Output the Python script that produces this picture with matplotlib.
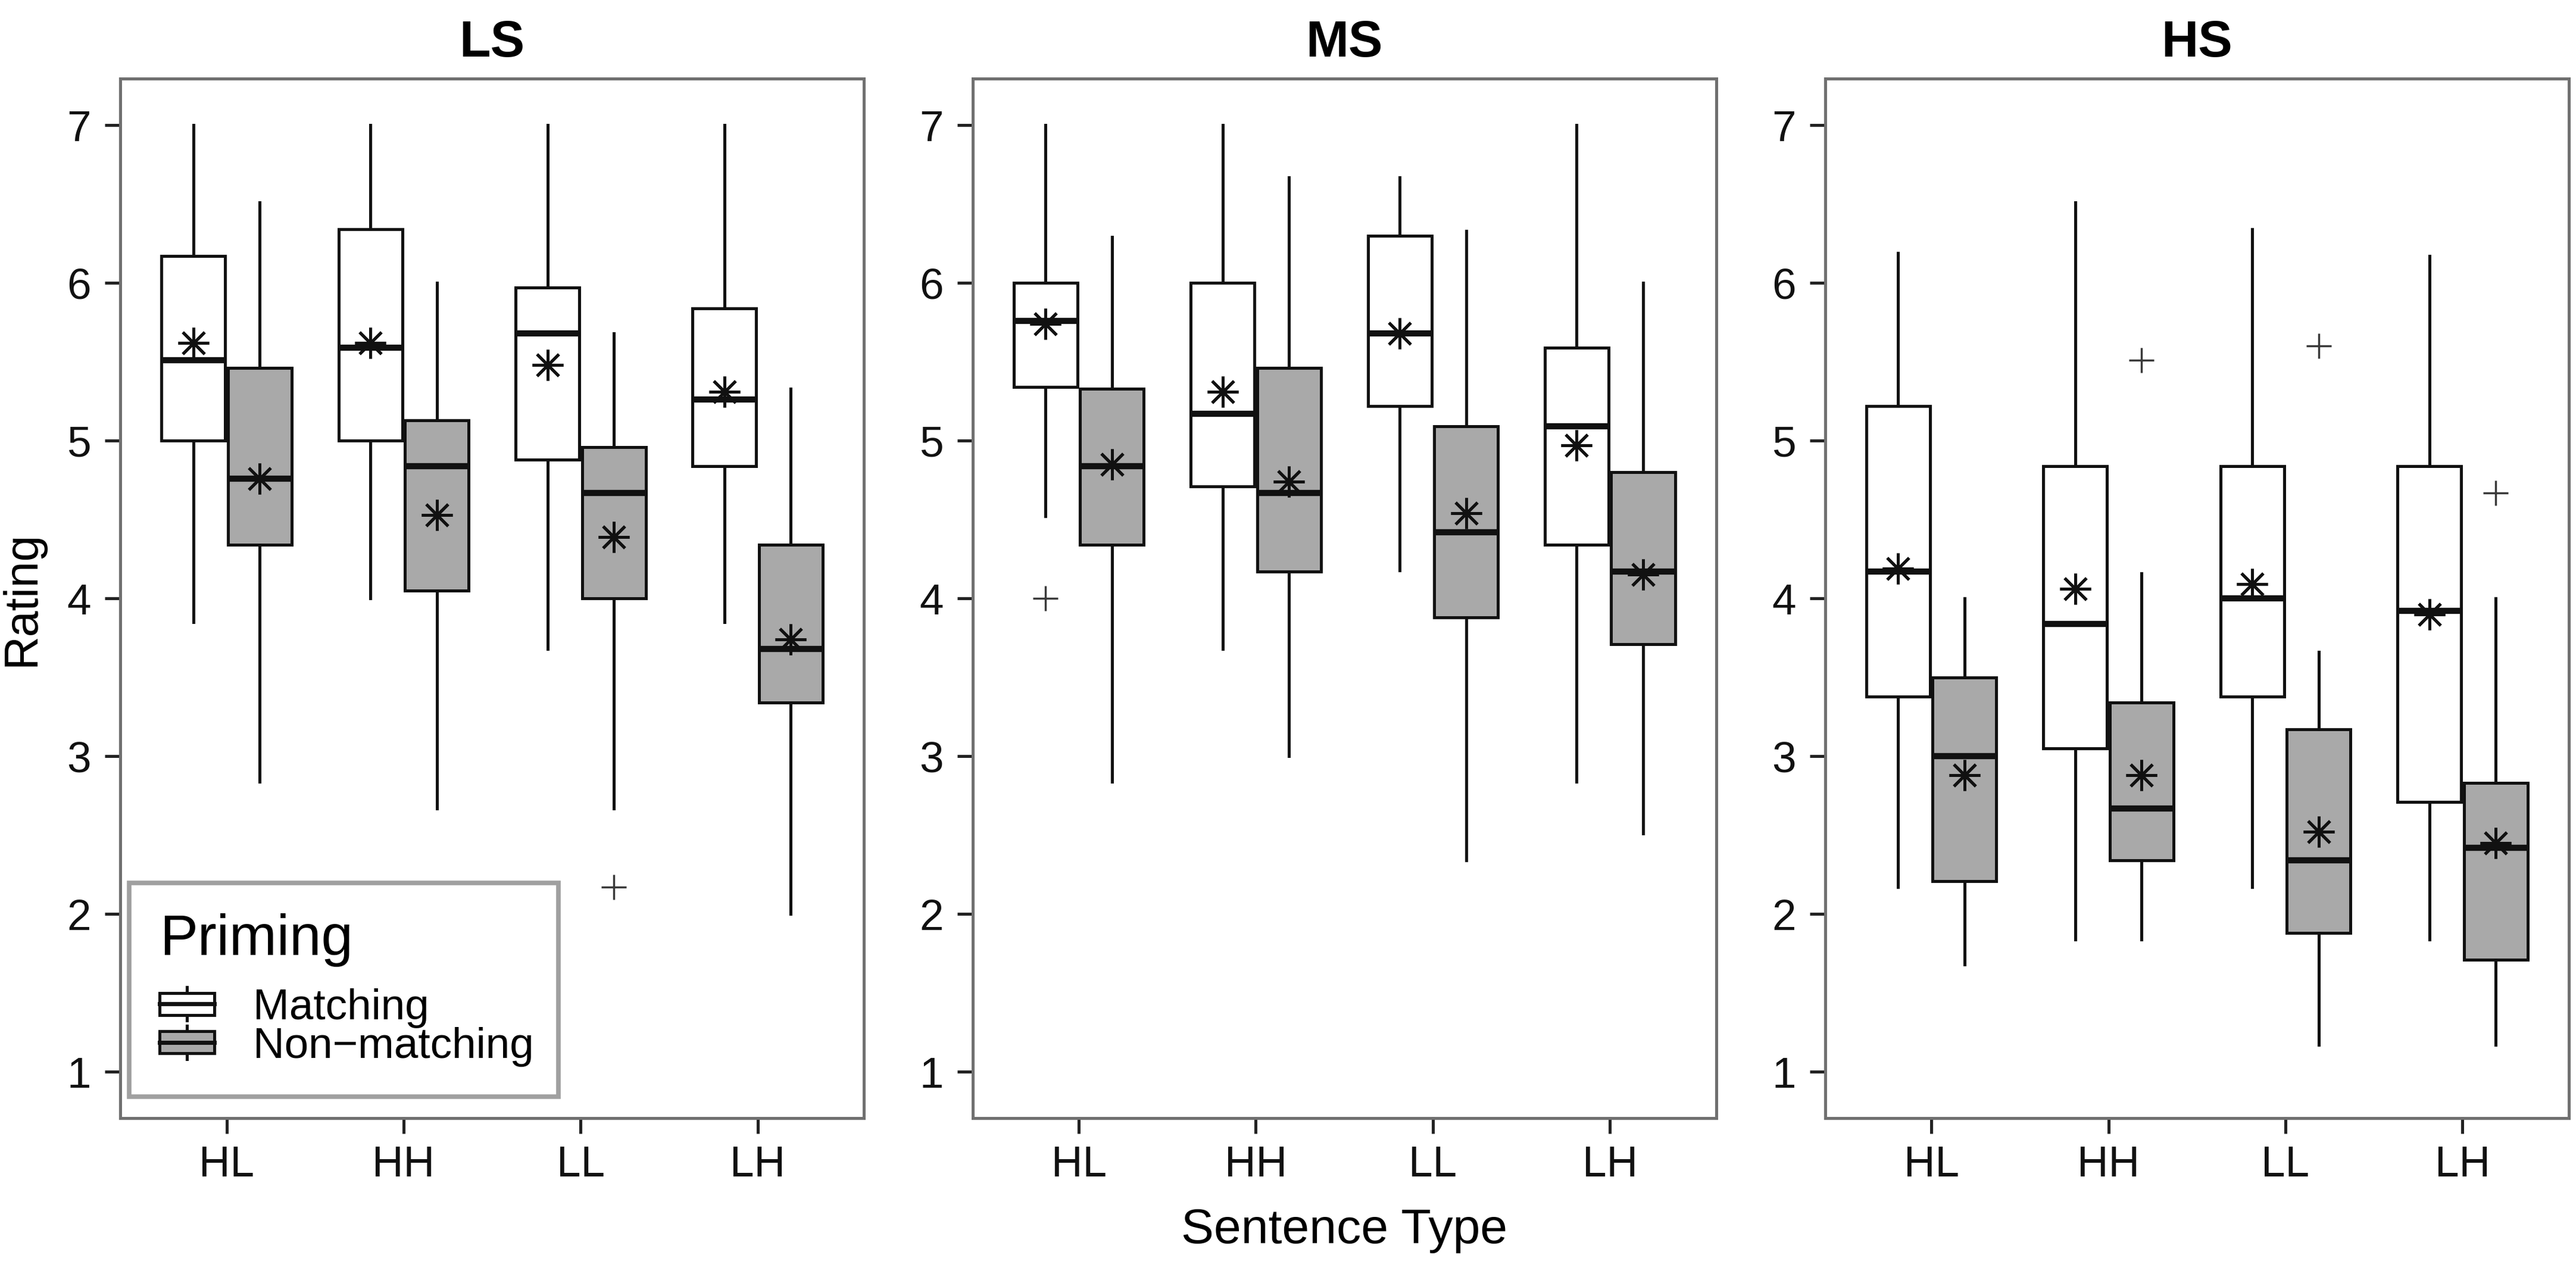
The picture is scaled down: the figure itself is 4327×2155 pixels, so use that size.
import matplotlib
matplotlib.use("Agg")
import matplotlib.pyplot as plt
from matplotlib.legend_handler import HandlerBase
from matplotlib.lines import Line2D
from matplotlib.patches import Patch, Rectangle


PANELS = ["LS", "MS", "HS"]
SENTENCE_TYPES = ["HL", "HH", "LL", "LH"]
PRIMING = ["Matching", "Non\u2212matching"]

# rows = panels (LS, MS, HS), columns = sentence types (HL, HH, LL, LH)
MATCH_WHISLO = [[3.85, 4.00, 3.68, 3.85], [4.52, 3.68, 4.18, 2.84], [2.17, 1.84, 2.17, 1.84]]
MATCH_Q1 = [[5.00, 5.00, 4.88, 4.84], [5.34, 4.71, 5.22, 4.34], [3.38, 3.05, 3.38, 2.71]]
MATCH_MED = [[5.51, 5.59, 5.68, 5.26], [5.76, 5.17, 5.68, 5.09], [4.17, 3.84, 4.00, 3.92]]
MATCH_Q3 = [[6.17, 6.34, 5.97, 5.84], [6.00, 6.00, 6.30, 5.59], [5.22, 4.84, 4.84, 4.84]]
MATCH_WHISHI = [[7.00, 7.00, 7.00, 7.00], [7.00, 7.00, 6.67, 7.00], [6.19, 6.51, 6.34, 6.17]]
MATCH_MEAN = [[5.62, 5.62, 5.48, 5.31], [5.74, 5.31, 5.68, 4.97], [4.19, 4.06, 4.09, 3.90]]
MATCH_OUTLIERS = [[[], [], [], []], [[4.00], [], [], []], [[], [], [], []]]

NONMATCH_WHISLO = [[2.84, 2.67, 2.67, 2.00], [2.84, 3.00, 2.34, 2.51], [1.68, 1.84, 1.17, 1.17]]
NONMATCH_Q1 = [[4.34, 4.05, 4.00, 3.34], [4.34, 4.17, 3.88, 3.71], [2.21, 2.34, 1.88, 1.71]]
NONMATCH_MED = [[4.76, 4.84, 4.67, 3.68], [4.84, 4.67, 4.42, 4.17], [3.00, 2.67, 2.34, 2.42]]
NONMATCH_Q3 = [[5.46, 5.13, 4.96, 4.34], [5.33, 5.46, 5.09, 4.80], [3.50, 3.34, 3.17, 2.83]]
NONMATCH_WHISHI = [[6.51, 6.00, 5.68, 5.33], [6.29, 6.67, 6.33, 6.00], [4.00, 4.16, 3.66, 4.00]]
NONMATCH_MEAN = [[4.76, 4.53, 4.39, 3.74], [4.85, 4.74, 4.54, 4.15], [2.88, 2.88, 2.52, 2.45]]
NONMATCH_OUTLIERS = [[[], [], [2.17], []], [[], [], [], []], [[], [5.51], [5.60], [4.67]]]

FILL = ["white", "#a9a9a9"]
OFFSET = [-0.1875, 0.1875]
BOX_W = 0.36
LINE = "#111111"


class BoxGlyph(HandlerBase):
    # small ggplot-style boxplot key
    def create_artists(self, legend, orig_handle, xdescent, ydescent,
                       width, height, fontsize, trans):
        cx = -xdescent + width / 2
        cy = -ydescent + height / 2
        bh = height * 0.66
        rect = Rectangle((cx - width / 2, cy - bh / 2), width, bh,
                         facecolor=orig_handle.get_facecolor(),
                         edgecolor=LINE, linewidth=1.3, transform=trans)
        med = Line2D([cx - width / 2, cx + width / 2], [cy, cy], color=LINE, lw=1.8,
                     transform=trans)
        top = Line2D([cx, cx], [cy + bh / 2, cy + height / 2], color=LINE, lw=1.3,
                     transform=trans)
        bot = Line2D([cx, cx], [cy - bh / 2, cy - height / 2], color=LINE, lw=1.3,
                     transform=trans)
        return [top, bot, rect, med]


def box_stats(p, i, k):
    if k == 0:
        src = (MATCH_WHISLO, MATCH_Q1, MATCH_MED, MATCH_Q3, MATCH_WHISHI, MATCH_MEAN,
               MATCH_OUTLIERS)
    else:
        src = (NONMATCH_WHISLO, NONMATCH_Q1, NONMATCH_MED, NONMATCH_Q3, NONMATCH_WHISHI,
               NONMATCH_MEAN, NONMATCH_OUTLIERS)
    lo, q1, med, q3, hi, mean, out = (s[p][i] for s in src)
    return {"whislo": lo, "q1": q1, "med": med, "q3": q3, "whishi": hi,
            "mean": mean, "fliers": out}


def main():
    plt.rcParams["font.family"] = ["Liberation Sans", "DejaVu Sans"]

    fig = plt.figure(figsize=(15.68, 7.81), dpi=276)
    lefts = [0.0467, 0.3775, 0.7084]
    axes = [fig.add_axes([l, 0.1285, 0.2886, 0.8098]) for l in lefts]

    for p, (ax, panel) in enumerate(zip(axes, PANELS)):
        for k in range(len(PRIMING)):
            stats = [box_stats(p, i, k) for i in range(len(SENTENCE_TYPES))]
            pos = [i + 1 + OFFSET[k] for i in range(len(SENTENCE_TYPES))]
            ax.bxp(
                stats, positions=pos, widths=BOX_W, patch_artist=True,
                showcaps=False, showmeans=True, manage_ticks=False,
                boxprops=dict(facecolor=FILL[k], edgecolor=LINE, linewidth=1.3),
                whiskerprops=dict(color=LINE, linewidth=1.3),
                medianprops=dict(color=LINE, linewidth=2.7, solid_capstyle="butt"),
                meanprops=dict(marker=(8, 2, 0), markersize=13.5, markeredgewidth=1.3,
                               markeredgecolor=LINE, markerfacecolor=LINE, linestyle="none"),
                flierprops=dict(marker="+", markersize=11, markeredgewidth=0.9,
                                markeredgecolor="#3a3a3a", linestyle="none"),
            )

        ax.set_xlim(0.4, 4.6)
        ax.set_ylim(0.706, 7.294)
        ax.set_xticks(range(1, len(SENTENCE_TYPES) + 1))
        ax.set_xticklabels(SENTENCE_TYPES)
        ax.set_yticks(range(1, 8))
        ax.tick_params(axis="both", length=6.8, width=1.3, color="#222222",
                       labelsize=19, labelcolor="#111111")
        ax.tick_params(axis="x", pad=5)
        ax.tick_params(axis="y", pad=6)
        for spine in ax.spines.values():
            spine.set_color("#707070")
            spine.set_linewidth(1.3)
        ax.set_title(panel, fontsize=22.5, fontweight="bold", pad=10)

    axes[0].set_ylabel("Rating", fontsize=20.5, labelpad=10)
    axes[1].set_xlabel("Sentence Type", fontsize=21.5, labelpad=10)

    handles = [Patch(facecolor=c, edgecolor=LINE) for c in FILL]
    leg = axes[0].legend(
        handles, PRIMING, title="Priming", loc="lower left",
        bbox_to_anchor=(0.012, 0.0206, 0.5776, 0.2), mode="expand", borderaxespad=0,
        fontsize=19, title_fontsize=25, alignment="left", handler_map={Patch: BoxGlyph()},
        handlelength=1.26, handleheight=0.8, labelspacing=-0.05, handletextpad=0.9,
        borderpad=0.7, fancybox=False, framealpha=1,
    )
    leg._legend_box.sep = 9
    leg.get_frame().set_edgecolor("#a0a0a0")
    leg.get_frame().set_linewidth(2.0)

    fig.savefig("out.png", dpi=276, facecolor="white")


if __name__ == "__main__":
    main()
